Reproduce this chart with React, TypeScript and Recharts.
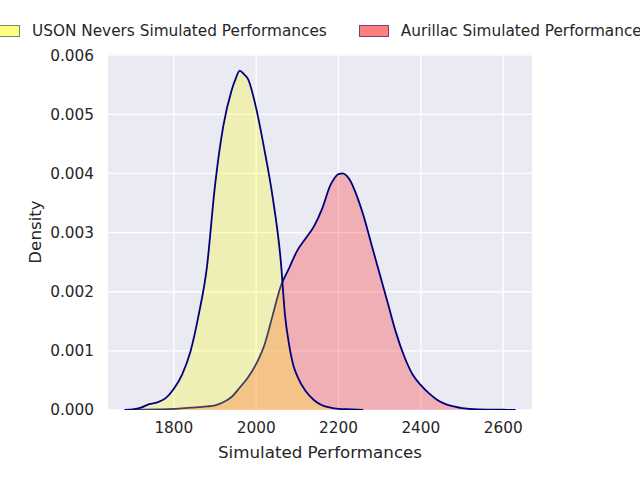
import { ComposedChart, Area, XAxis, YAxis, CartesianGrid } from "recharts";

// KDE curves (density vs simulated performance)
const usonX = [1680, 1700, 1720, 1740, 1760, 1780, 1800, 1820, 1840, 1860, 1880, 1900, 1920, 1940, 1950, 1960, 1970, 1980, 2000, 2020, 2040, 2060, 2070, 2080, 2090, 2100, 2120, 2140, 2160, 2180, 2200, 2230, 2260];
const usonY = [0, 0.00001, 0.00004, 0.0001, 0.00013, 0.0002, 0.00036, 0.0006, 0.00098, 0.0016, 0.0024, 0.0038, 0.0048, 0.0054, 0.0056, 0.00574, 0.00568, 0.0056, 0.0051, 0.0044, 0.0036, 0.0025, 0.0016, 0.0011, 0.00076, 0.00057, 0.00032, 0.00017, 0.00008, 0.00004, 0.00002, 0.00001, 0];

const aurX = [1700, 1760, 1800, 1840, 1880, 1900, 1920, 1940, 1960, 1980, 2000, 2020, 2040, 2060, 2080, 2100, 2120, 2140, 2160, 2180, 2190, 2200, 2210, 2220, 2230, 2240, 2260, 2280, 2300, 2320, 2340, 2360, 2380, 2400, 2420, 2440, 2460, 2480, 2500, 2540, 2600, 2630];
const aurY = [0, 0.00001, 0.00002, 0.00004, 0.00006, 0.00008, 0.00013, 0.00022, 0.00038, 0.00055, 0.00078, 0.0011, 0.0016, 0.0021, 0.0024, 0.0027, 0.0029, 0.0031, 0.0034, 0.0038, 0.00392, 0.00399, 0.004, 0.00396, 0.00386, 0.0037, 0.0033, 0.0028, 0.0023, 0.0018, 0.0013, 0.0009, 0.0006, 0.00042, 0.00028, 0.00017, 0.0001, 0.00006, 0.00003, 0.00001, 0.000005, 0];

const xTicks = [1800, 2000, 2200, 2400, 2600];
const yTicks = [0, 0.001, 0.002, 0.003, 0.004, 0.005, 0.006];

const usonData = usonX.map((x, i) => ({ x, y: usonY[i] }));
const aurData = aurX.map((x, i) => ({ x, y: aurY[i] }));

const FONT = "'DejaVu Sans', sans-serif";
const TEXT = "#262626";

export default function App() {
  const tickStyle = { fontSize: 15.3, fill: TEXT, fontFamily: FONT };

  return (
    <div style={{ position: "absolute", left: 0, top: 0, width: 640, height: 480, fontFamily: FONT, background: "#fff", overflow: "hidden" }}>
      <ComposedChart
        width={640}
        height={480}
        margin={{ top: 54, right: 108, bottom: 0, left: 0 }}
      >
        <CartesianGrid fill="#eaeaf2" stroke="#ffffff" strokeWidth={1.3} horizontalValues={yTicks} verticalValues={xTicks} />
        <XAxis
          type="number"
          dataKey="x"
          domain={[1640, 2670]}
          ticks={xTicks}
          allowDataOverflow
          axisLine={false}
          tickLine={false}
          tickSize={6}
          tickMargin={6}
          height={70}
          tick={tickStyle}
          label={{ value: "Simulated Performances", position: "insideBottom", offset: 22, style: { fontSize: 16.7, fill: TEXT, fontFamily: FONT } }}
        />
        <YAxis
          type="number"
          domain={[0, 0.00602]}
          ticks={yTicks}
          allowDataOverflow
          axisLine={false}
          tickLine={false}
          tickSize={6}
          tickMargin={8}
          width={108}
          tick={tickStyle}
          tickFormatter={(v: number) => v.toFixed(3)}
          label={{ value: "Density", angle: -90, position: "insideLeft", offset: 35, style: { textAnchor: "middle", fontSize: 16.7, fill: TEXT, fontFamily: FONT } }}
        />
        <Area
          data={aurData}
          dataKey="y"
          type="monotone"
          fill="#ff0000"
          fillOpacity={0.25}
          stroke="#000080"
          strokeWidth={1.8}
          dot={false}
          activeDot={false}
          isAnimationActive={false}
        />
        <Area
          data={usonData}
          dataKey="y"
          type="monotone"
          fill="#ffff00"
          fillOpacity={0.25}
          stroke="#000080"
          strokeWidth={1.8}
          dot={false}
          activeDot={false}
          isAnimationActive={false}
        />
      </ComposedChart>

      {/* legend, clipped at the right edge like the reference */}
      <div style={{ position: "absolute", top: 22, left: -10, whiteSpace: "nowrap", fontSize: 15.3, color: TEXT, display: "flex", alignItems: "center" }}>
        <span style={{ display: "inline-block", width: 28, height: 10, background: "rgba(255,255,0,0.5)", border: "1px solid rgba(0,0,128,0.5)", marginRight: 12 }} />
        <span>USON Nevers Simulated Performances</span>
        <span style={{ display: "inline-block", width: 28, height: 10, background: "rgba(255,0,0,0.5)", border: "1px solid rgba(0,0,128,0.5)", marginLeft: 32, marginRight: 12 }} />
        <span>Aurillac Simulated Performances</span>
      </div>
    </div>
  );
}
